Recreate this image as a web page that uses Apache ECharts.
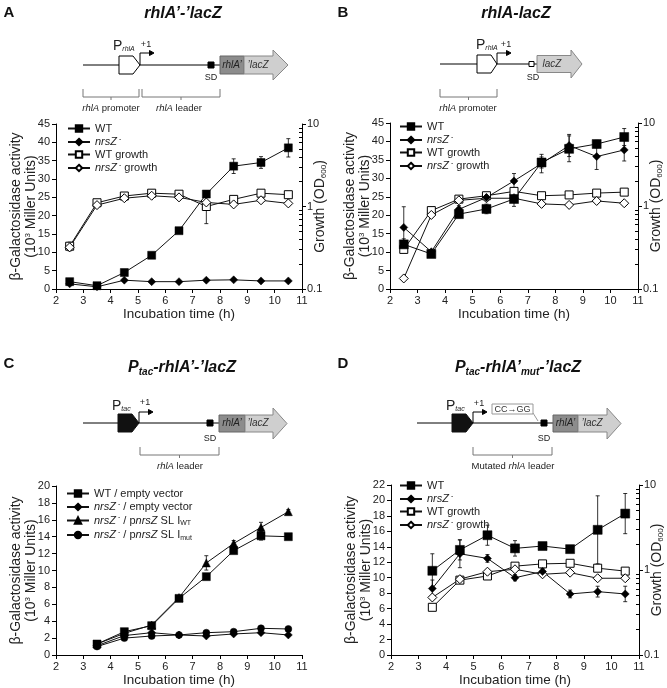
<!DOCTYPE html>
<html><head><meta charset="utf-8">
<script src="https://cdn.jsdelivr.net/npm/echarts@6/dist/echarts.min.js"></script>
<style>html,body{margin:0;padding:0;background:#fff}#c{width:667px;height:688px}</style>
</head><body><div id="c"></div>
<script>
// ---------------- data ----------------
const timeAB = [2.5, 3.5, 4.5, 5.5, 6.5, 7.5, 8.5, 9.5, 10.5];
const timeCD = [3.5, 4.5, 5.5, 6.5, 7.5, 8.5, 9.5, 10.5];

// Panel A  rhlA'-'lacZ
const A_wt          = [2.0, 0.9, 4.5, 9.2, 15.9, 25.9, 33.5, 34.5, 38.5];
const A_wtErr       = [0.5, 0.3, 0.6, 0.5, 0.6, 0.8, 2.0, 1.6, 2.5];
const A_nrsZ        = [1.4, 0.6, 2.4, 2.0, 2.0, 2.4, 2.5, 2.2, 2.2];
const A_nrsZErr     = [0.3, 0.2, 0.3, 0.2, 0.2, 0.2, 0.2, 0.2, 0.2];
const A_wtGrowth    = [0.33, 1.11, 1.34, 1.45, 1.41, 1.00, 1.22, 1.45, 1.39];
const A_wtGrowthErr = [0.04, 0.05, 0.05, 0.05, 0.05, 0.38, 0.05, 0.05, 0.05];
const A_nrsZGrowth  = [0.32, 1.04, 1.26, 1.35, 1.29, 1.12, 1.06, 1.19, 1.09];

// Panel B  rhlA-lacZ
const B_wt          = [12.1, 9.5, 20.3, 21.7, 24.4, 34.3, 38.0, 39.3, 41.2];
const B_wtErr       = [1.5, 0.5, 1.0, 1.3, 2.0, 1.5, 3.5, 1.0, 2.3];
const B_nrsZ        = [16.7, 10.1, 21.6, 24.8, 29.3, 34.0, 38.9, 35.9, 37.7];
const B_nrsZErr     = [5.6, 0.5, 1.0, 0.8, 2.0, 2.5, 3.0, 3.5, 3.0];
const B_wtGrowth    = [0.30, 0.88, 1.21, 1.33, 1.50, 1.33, 1.36, 1.43, 1.47];
const B_nrsZGrowth  = [0.134, 0.78, 1.17, 1.24, 1.24, 1.06, 1.03, 1.15, 1.08];

// Panel C  Ptac-rhlA'-'lacZ
const C_wtEmpty     = [1.3, 2.76, 3.47, 6.7, 9.27, 12.35, 14.1, 14.0];
const C_wtEmptyErr  = [0.1, 0.2, 0.2, 0.2, 0.3, 0.3, 0.5, 0.2];
const C_nrsZEmpty   = [1.1, 2.3, 2.64, 2.37, 2.25, 2.49, 2.64, 2.37];
const C_slWT        = [1.3, 2.56, 3.55, 6.8, 10.9, 13.2, 15.1, 16.96];
const C_slWTErr     = [0.1, 0.2, 0.2, 0.2, 0.85, 0.35, 0.6, 0.25];
const C_slMut       = [1.0, 2.0, 2.25, 2.37, 2.64, 2.76, 3.16, 3.08];

// Panel D  Ptac-rhlA'mut-'lacZ
const D_wt          = [10.9, 13.6, 15.5, 13.8, 14.1, 13.7, 16.2, 18.3];
const D_wtErr       = [2.2, 1.3, 1.3, 1.0, 0.4, 0.2, 4.4, 2.6];
const D_nrsZ        = [8.6, 13.1, 12.5, 10.0, 10.8, 7.9, 8.2, 7.9];
const D_nrsZErr     = [1.1, 1.8, 0.5, 0.4, 0.4, 0.5, 0.7, 1.0];
const D_wtGrowth    = [0.364, 0.76, 0.85, 1.11, 1.18, 1.20, 1.05, 0.97];
const D_nrsZGrowth  = [0.475, 0.78, 0.955, 1.02, 0.89, 0.93, 0.80, 0.80];

const minorLogTicks = [0.2,0.3,0.4,0.5,0.6,0.7,0.8,0.9,2,3,4,5,6,7,8,9];

// ---------------- helpers ----------------
const F = "'Liberation Sans', Arial, sans-serif";
const TXT = '#222';
const pairs = (xs, ys) => xs.map((x, i) => [x, ys[i]]);
const triples = (xs, ys, es) => xs.map((x, i) => [x, ys[i], es[i]]);

function xAx(gi) {
  return {type:'value', gridIndex:gi, min:2, max:11, interval:1,
    axisLine:{show:true, onZero:false, lineStyle:{color:'#000', width:1}},
    axisTick:{show:true, length:4, lineStyle:{color:'#000'}},
    axisLabel:{fontSize:11, color:TXT, fontFamily:F, margin:6},
    splitLine:{show:false},
    name:'Incubation time (h)', nameLocation:'middle', nameGap:18, nameMoveOverlap:false,
    nameTextStyle:{fontSize:13.5, color:TXT, fontFamily:F}};
}
function leftY(gi, max, interval) {
  return {type:'value', gridIndex:gi, min:0, max:max, interval:interval, position:'left',
    axisLine:{show:true, onZero:false, lineStyle:{color:'#000', width:1}},
    axisTick:{show:true, length:4, lineStyle:{color:'#000'}},
    axisLabel:{fontSize:11, color:TXT, fontFamily:F, margin:6},
    splitLine:{show:false},
    name:'{n|β-Galactosidase activity}\n{n|(10}{sup|3}{n| Miller Units)}',
    nameLocation:'middle', nameGap:18, nameRotate:90, nameMoveOverlap:false,
    nameTextStyle:{fontFamily:F, color:TXT, rich:{
      n:{fontSize:14, fontFamily:F, color:TXT, lineHeight:14.5},
      sup:{fontSize:8, fontFamily:F, color:TXT, lineHeight:8, verticalAlign:'top'}}}};
}
function rightY(gi) {
  return {type:'log', logBase:10, gridIndex:gi, min:0.1, max:10, position:'right',
    axisLine:{show:true, onZero:false, lineStyle:{color:'#000', width:1}},
    axisTick:{show:true, length:4, lineStyle:{color:'#000'}},
    axisLabel:{fontSize:11, color:TXT, fontFamily:F, margin:5},
    splitLine:{show:false},
    name:'{n|Growth (OD}{sub|600}{n|)}', nameLocation:'middle', nameGap:11, nameRotate:90,
    nameMoveOverlap:false,
    nameTextStyle:{fontFamily:F, color:TXT, rich:{
      n:{fontSize:14, fontFamily:F, color:TXT, lineHeight:15},
      sub:{fontSize:8, fontFamily:F, color:TXT, lineHeight:8, verticalAlign:'bottom'}}}};
}
function minorY(gi) {
  return {type:'log', logBase:10, gridIndex:gi, min:0.1, max:10, position:'right',
    axisLine:{show:false}, axisLabel:{show:false}, splitLine:{show:false},
    axisTick:{show:true, inside:true, length:3, customValues:minorLogTicks, lineStyle:{color:'#000'}}};
}

function lineS(name, xi, yi, xs, ys, symbol, size, filled) {
  return {type:'line', name:name, xAxisIndex:xi, yAxisIndex:yi, data:pairs(xs, ys),
    symbol:symbol, symbolSize:size, showSymbol:true, z:3,
    lineStyle:{color:'#111', width:1},
    itemStyle: filled ? {color:'#000', borderColor:'#000', borderWidth:0.5}
                      : {color:'#fff', borderColor:'#000', borderWidth:1},
    emphasis:{disabled:true}, animation:false};
}
function errRender(params, api) {
  const x = api.value(0), y = api.value(1), e = api.value(2);
  if (!e) return null;
  const hi = api.coord([x, y + e]);
  const lo = api.coord([x, y - e > 0 ? y - e : y * 0.5]);
  const c = 2;
  const st = {stroke:'#000', lineWidth:0.8};
  return {type:'group', children:[
    {type:'line', shape:{x1:hi[0], y1:hi[1], x2:lo[0], y2:lo[1]}, style:st},
    {type:'line', shape:{x1:hi[0]-c, y1:hi[1], x2:hi[0]+c, y2:hi[1]}, style:st},
    {type:'line', shape:{x1:lo[0]-c, y1:lo[1], x2:lo[0]+c, y2:lo[1]}, style:st}]};
}
function errS(xi, yi, xs, ys, es) {
  return {type:'custom', xAxisIndex:xi, yAxisIndex:yi, data:triples(xs, ys, es),
    encode:{x:0, y:1}, renderItem:errRender, z:2, silent:true, animation:false};
}

const labelMap = {
  'A1':'{n|WT}', 'A2':'{i|nrsZ}{sup| -}', 'A3':'{n|WT growth}', 'A4':'{i|nrsZ}{sup| -}{n| growth}',
  'B1':'{n|WT}', 'B2':'{i|nrsZ}{sup| -}', 'B3':'{n|WT growth}', 'B4':'{i|nrsZ}{sup| -}{n| growth}',
  'C1':'{n|WT / empty vector}', 'C2':'{i|nrsZ}{sup| -}{n| / empty vector}',
  'C3':'{i|nrsZ}{sup| -}{n| / p}{i|nrsZ}{n| SL I}{sub|WT}',
  'C4':'{i|nrsZ}{sup| -}{n| / p}{i|nrsZ}{n| SL I}{sub|mut}',
  'D1':'{n|WT}', 'D2':'{i|nrsZ}{sup| -}', 'D3':'{n|WT growth}', 'D4':'{i|nrsZ}{sup| -}{n| growth}'
};
const legRich = {
  n:{fontSize:11, fontFamily:F, color:TXT, lineHeight:13},
  i:{fontSize:11, fontFamily:F, color:TXT, fontStyle:'italic', lineHeight:13},
  sup:{fontSize:7, fontFamily:F, color:TXT, lineHeight:7, verticalAlign:'top'},
  sub:{fontSize:7, fontFamily:F, color:TXT, lineHeight:7, verticalAlign:'bottom'}
};
function legend(prefix, left, top) {
  return {orient:'vertical', left:left, top:top, itemWidth:22, itemHeight:8, itemGap:1.5,
    selectedMode:false, data:[prefix+'1', prefix+'2', prefix+'3', prefix+'4'],
    formatter:(n) => labelMap[n], textStyle:{fontFamily:F, color:TXT, fontSize:11, rich:legRich}};
}

// ---------------- construct diagrams (graphic) ----------------
const G = [];
function gl(x1,y1,x2,y2,stroke,lw){G.push({type:'line',shape:{x1,y1,x2,y2},style:{stroke:stroke||'#000',lineWidth:lw||1},silent:true});}
function gpl(points,stroke,lw){G.push({type:'polyline',shape:{points},style:{stroke:stroke||'#000',lineWidth:lw||1,fill:null},silent:true});}
function gpg(points,fill,stroke){G.push({type:'polygon',shape:{points},style:{fill,stroke:stroke||'#000',lineWidth:1},silent:true});}
function grc(x,y,w,h,fill,stroke){G.push({type:'rect',shape:{x,y,width:w,height:h},style:{fill,stroke:stroke||'#000',lineWidth:1},silent:true});}
function gt(x,y,text,opt){
  opt = opt||{};
  G.push({type:'text',x,y,silent:true,style:Object.assign({text,fontFamily:F,fontSize:10,fill:TXT,align:'center',verticalAlign:'middle'},opt)});
}
const smallRich = {
  p:{fontSize:14, fontFamily:F, fill:TXT, color:TXT, lineHeight:14},
  s:{fontSize:7, fontFamily:F, fill:TXT, color:TXT, fontStyle:'italic', lineHeight:7, verticalAlign:'bottom'},
  n:{fontSize:9.5, fontFamily:F, fill:TXT, color:TXT},
  i:{fontSize:9.5, fontFamily:F, fill:TXT, color:TXT, fontStyle:'italic'}
};
const titleRich = {
  b:{fontSize:16, fontFamily:F, fontWeight:'bold', fontStyle:'italic', fill:'#111', color:'#111', lineHeight:18},
  bs:{fontSize:10, fontFamily:F, fontWeight:'bold', fontStyle:'italic', fill:'#111', color:'#111', lineHeight:8, verticalAlign:'bottom'}
};
function brace(x1,x2,y){
  gpl([[x1,y],[x1,y+8],[x2,y+8],[x2,y]],'#777',1);
  const m=(x1+x2)/2; gl(m,y+8,m,y+11,'#777',1);
}
function bent(x,yl,yt,x2){
  gpl([[x,yl],[x,yt],[x2-3,yt]],'#000',1);
  gpg([[x2-4.5,yt-2.5],[x2,yt],[x2-4.5,yt+2.5]],'#000','#000');
}
function gene(x0,xd,xh,xt,yt,yb,ht,hb){
  const ym=(yt+yb)/2;
  if (xd>x0) grc(x0,yt,xd-x0,yb-yt,'#8c8c8c','#666');
  gpg([[xd,yt],[xh,yt],[xh,ht],[xt,ym],[xh,hb],[xh,yb],[xd,yb]],'#cfcfcf','#888');
}
// panel letters & titles
gt(9,13,'A',{fontSize:15,fontWeight:'bold',fill:'#111'});
gt(183,14,'{b|rhlA’-’lacZ}',{rich:titleRich});
gt(343,13,'B',{fontSize:15,fontWeight:'bold',fill:'#111'});
gt(516,14,'{b|rhlA-lacZ}',{rich:titleRich});
gt(9,364,'C',{fontSize:15,fontWeight:'bold',fill:'#111'});
gt(182,368,'{b|P}{bs|tac}{b|-rhlA’-’lacZ}',{rich:titleRich});
gt(343,364,'D',{fontSize:15,fontWeight:'bold',fill:'#111'});
gt(518,368,'{b|P}{bs|tac}{b|-rhlA’}{bs|mut}{b|-’lacZ}',{rich:titleRich});

// Panel A construct
gl(83,65,220,65);
gpg([[119,56],[133,56],[140,65],[133,74],[119,74]],'#fff','#000');
gt(113,46,'{p|P}{s|rhlA}',{rich:smallRich,align:'left'});
gt(146,45,'+1',{fontSize:9});
bent(140,65,53,154);
grc(208,62,6,6,'#000','#000');
gt(211,78,'SD',{fontSize:9});
gene(220,244,273,288,56,74,50,80);
gt(232,65,'rhlA’',{fontSize:10,fontStyle:'italic',fill:'#222'});
gt(258,65,'’lacZ',{fontSize:10,fontStyle:'italic',fill:'#333'});
brace(83,139,89); brace(142,220,89);
gt(111,108,'{i|rhlA}{n| promoter}',{rich:smallRich});
gt(179,108,'{i|rhlA}{n| leader}',{rich:smallRich});

// Panel B construct
gl(440,64,529,64); gl(534,64,537,64);
gpg([[477,55],[491,55],[497,64],[491,73],[477,73]],'#fff','#000');
gt(476,45,'{p|P}{s|rhlA}',{rich:smallRich,align:'left'});
gt(506,45,'+1',{fontSize:9});
bent(497,64,53,511);
grc(529,61.5,5,5,'#fff','#000');
gt(533,78,'SD',{fontSize:9});
gene(537,537,571,582,55.5,72.5,50,78);
gt(552,64,'lacZ',{fontSize:10,fontStyle:'italic',fill:'#333'});
brace(440,497,89);
gt(468,108,'{i|rhlA}{n| promoter}',{rich:smallRich});

// Panel C construct
gl(83,423,219,423);
gpg([[118,414],[132,414],[139,423],[132,432],[118,432]],'#111','#111');
gt(112,406,'{p|P}{s|tac}',{rich:smallRich,align:'left'});
gt(145,403,'+1',{fontSize:9});
bent(139,423,412,153);
grc(207,420,6,6,'#000','#000');
gt(210,439,'SD',{fontSize:9});
gene(219,245,273,287,415,432,408,439);
gt(232,423.5,'rhlA’',{fontSize:10,fontStyle:'italic',fill:'#222'});
gt(258,423.5,'’lacZ',{fontSize:10,fontStyle:'italic',fill:'#333'});
brace(140,219,447);
gt(180,466,'{i|rhlA}{n| leader}',{rich:smallRich});

// Panel D construct
gl(417,423,553,423);
gpg([[452,414],[466,414],[473,423],[466,432],[452,432]],'#111','#111');
gt(446,406,'{p|P}{s|tac}',{rich:smallRich,align:'left'});
gt(479,404,'+1',{fontSize:9});
bent(473,423,412,487);
grc(492,404,41,10,'#fff','#999');
gt(512.5,409.5,'CC→GG',{fontSize:9,fill:'#333'});
gl(533,413,538,421,'#999',1);
grc(541,420,6,6,'#000','#000');
gt(544,439,'SD',{fontSize:9});
gene(553,578,607,621,415,432,408,439);
gt(565.5,423.5,'rhlA’',{fontSize:10,fontStyle:'italic',fill:'#222'});
gt(592,423.5,'’lacZ',{fontSize:10,fontStyle:'italic',fill:'#333'});
brace(473,552,447);
gt(513,466,'{n|Mutated }{i|rhlA}{n| leader}',{rich:smallRich});

// ---------------- option ----------------
const option = {
  backgroundColor:'#fff',
  animation:false,
  grid:[
    {left:56, top:124, width:246, height:165},
    {left:390, top:123, width:248, height:166},
    {left:56, top:486, width:246, height:169},
    {left:391, top:485, width:248, height:170}
  ],
  xAxis:[xAx(0), xAx(1), xAx(2), xAx(3)],
  yAxis:[
    leftY(0,45,5), rightY(0), minorY(0),
    leftY(1,45,5), rightY(1), minorY(1),
    leftY(2,20,2),
    leftY(3,22,2), rightY(3), minorY(3)
  ],
  legend:[legend('A',62,118), legend('B',394,116), legend('C',61,483), legend('D',394,475)],
  graphic:{elements:G},
  series:[
    // A
    errS(0,0,timeAB,A_wt,A_wtErr), errS(0,0,timeAB,A_nrsZ,A_nrsZErr), errS(0,1,timeAB,A_wtGrowth,A_wtGrowthErr),
    lineS('A3',0,1,timeAB,A_wtGrowth,'rect',8,false),
    lineS('A4',0,1,timeAB,A_nrsZGrowth,'diamond',9,false),
    lineS('A1',0,0,timeAB,A_wt,'rect',8,true),
    lineS('A2',0,0,timeAB,A_nrsZ,'diamond',8,true),
    // B
    errS(1,3,timeAB,B_wt,B_wtErr), errS(1,3,timeAB,B_nrsZ,B_nrsZErr),
    lineS('B3',1,4,timeAB,B_wtGrowth,'rect',8,false),
    lineS('B4',1,4,timeAB,B_nrsZGrowth,'diamond',9,false),
    lineS('B1',1,3,timeAB,B_wt,'rect',9,true),
    lineS('B2',1,3,timeAB,B_nrsZ,'diamond',8,true),
    // C
    errS(2,6,timeCD,C_wtEmpty,C_wtEmptyErr), errS(2,6,timeCD,C_slWT,C_slWTErr),
    lineS('C1',2,6,timeCD,C_wtEmpty,'rect',8,true),
    lineS('C2',2,6,timeCD,C_nrsZEmpty,'diamond',8,true),
    lineS('C3',2,6,timeCD,C_slWT,'triangle',8,true),
    lineS('C4',2,6,timeCD,C_slMut,'circle',7,true),
    // D
    errS(3,7,timeCD,D_wt,D_wtErr), errS(3,7,timeCD,D_nrsZ,D_nrsZErr),
    lineS('D3',3,8,timeCD,D_wtGrowth,'rect',8,false),
    lineS('D4',3,8,timeCD,D_nrsZGrowth,'diamond',9,false),
    lineS('D1',3,7,timeCD,D_wt,'rect',9,true),
    lineS('D2',3,7,timeCD,D_nrsZ,'diamond',8,true)
  ]
};
const chart = echarts.init(document.getElementById('c'), null, {renderer:'canvas'});
chart.setOption(option);
</script></body></html>
